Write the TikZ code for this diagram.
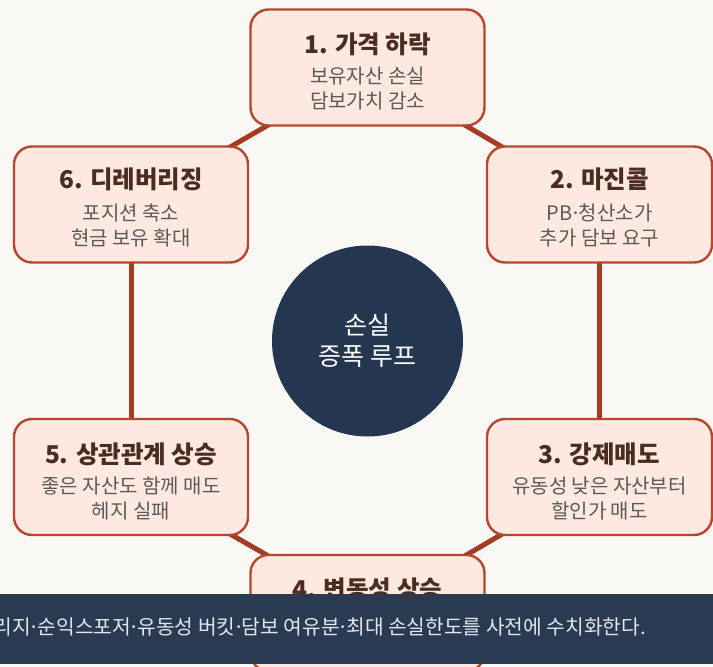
\documentclass[tikz,border=0pt]{standalone}
\usepackage{fontspec}
\setmainfont{Noto Sans CJK KR}
\pgfdeclarelayer{bottomlayer}
\pgfdeclarelayer{linklayer}
\pgfsetlayers{bottomlayer,linklayer,main}
\definecolor{bgc}{HTML}{FAF8F5}
\definecolor{boxfill}{HTML}{FDE9DF}
\definecolor{boxline}{HTML}{B5472F}
\definecolor{linkc}{HTML}{A33C22}
\definecolor{titlec}{HTML}{4B2C22}
\definecolor{subc}{HTML}{5A5A5A}
\definecolor{navy}{HTML}{243650}
\definecolor{barc}{HTML}{2A3A52}
\definecolor{bartext}{HTML}{E3E7EC}
\newcommand\md{\makebox[0.32em][c]{·}}
\tikzset{
  stepbox/.style={draw=boxline, fill=boxfill, line width=2.4pt, rounded corners=18pt,
    minimum width=234pt, minimum height=116pt, inner sep=0pt},
  stepboxn/.style={stepbox, minimum width=225pt},
  titletext/.style={text=titlec, font=\bfseries\fontsize{24.5}{28}\selectfont, inner sep=0pt, anchor=center},
  subtext/.style={text=subc, font=\fontsize{20}{25}\selectfont, align=center, inner sep=0pt, anchor=center},
  link/.style={draw=linkc, line width=5pt},
  hub/.style={circle, fill=navy, minimum size=191pt, inner sep=0pt, text=white,
    font=\fontsize{25}{31}\selectfont, align=center}
}
\begin{document}
\begin{tikzpicture}[x=1pt,y=-1pt]
\useasboundingbox (0,0) rectangle (713,667);
\clip (0,0) rectangle (713,667);
\begin{pgfonlayer}{bottomlayer}
\fill[bgc] (0,0) rectangle (713,667);
\end{pgfonlayer}
% boxes
\node[stepbox]  (n1) at (367.5,67.5) {};
\node[stepboxn] (n2) at (599.5,204.5) {};
\node[stepboxn] (n3) at (599.5,477) {};
\node[stepbox]  (n4) at (367.5,613) {};
\node[stepbox]  (n5) at (131,477) {};
\node[stepbox]  (n6) at (131,204.5) {};
% connectors behind boxes
\begin{pgfonlayer}{linklayer}
\draw[link] (n1.center) -- (n2.center);
\draw[link] (n2.center) -- (n3.center);
\draw[link] (n3.center) -- (n4.center);
\draw[link] (n4.center) -- (n5.center);
\draw[link] (n5.center) -- (n6.center);
\draw[link] (n6.center) -- (n1.center);
\end{pgfonlayer}
% texts
\node[titletext] (t1) at ([yshift=23pt]n1.center) {1. 가격 하락};
\node[subtext]   (s1) at ([yshift=-21pt]n1.center) {보유자산 손실\\담보가치 감소};
\node[titletext] (t2) at ([yshift=25pt]n2.center) {2. 마진콜};
\node[subtext]   (s2) at ([yshift=-21pt]n2.center) {PB\md 청산소가\\추가 담보 요구};
\node[titletext] (t3) at ([yshift=23pt]n3.center) {3. 강제매도};
\node[subtext]   (s3) at ([yshift=-21pt]n3.center) {유동성 낮은 자산부터\\할인가 매도};
\node[titletext] (t4) at ([yshift=24pt]n4.center) {4. 변동성 상승};
\node[titletext] (t5) at ([yshift=23pt]n5.center) {5. 상관관계 상승};
\node[subtext]   (s5) at ([yshift=-21pt]n5.center) {좋은 자산도 함께 매도\\헤지 실패};
\node[titletext] (t6) at ([yshift=25pt]n6.center) {6. 디레버리징};
\node[subtext]   (s6) at ([yshift=-21pt]n6.center) {포지션 축소\\현금 보유 확대};
% hub
\node[hub] (hub) at (367.5,341) {손실\\증폭 루프};
% bottom bar
\fill[barc] (0,594) rectangle (713,664);
\node[anchor=east, text=bartext, font=\fontsize{20.3}{23}\selectfont, inner sep=0pt] (bar) at (646,627)
  {레버리지\md 순익스포저\md 유동성 버킷\md 담보 여유분\md 최대 손실한도를 사전에 수치화한다.};
\end{tikzpicture}
\end{document}
